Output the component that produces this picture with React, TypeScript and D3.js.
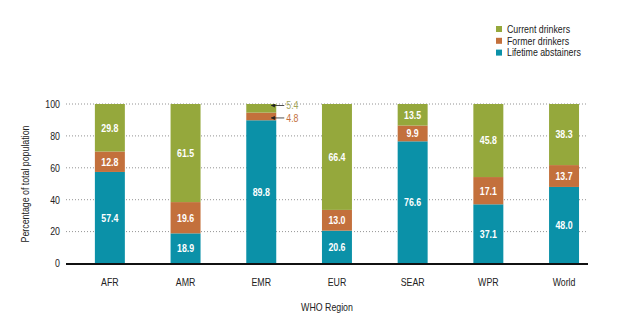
import React from "react";
import * as d3 from "d3";

const categories = ["AFR", "AMR", "EMR", "EUR", "SEAR", "WPR", "World"];
const lifetimeAbstainers = [57.4, 18.9, 89.8, 20.6, 76.6, 37.1, 48.0];
const formerDrinkers = [12.8, 19.6, 4.8, 13.0, 9.9, 17.1, 13.7];
const currentDrinkers = [29.8, 61.5, 5.4, 66.4, 13.5, 45.8, 38.3];
const yTicks = [0, 20, 40, 60, 80, 100];
const seriesNames = ["Current drinkers", "Former drinkers", "Lifetime abstainers"];

const COLORS: Record<string, string> = {
  "Lifetime abstainers": "#0b91a8",
  "Former drinkers": "#c3703c",
  "Current drinkers": "#95a83c",
};
const FONT = "'Liberation Sans', Arial, sans-serif";
const SX = 0.8;

function T(props: { x: number; y: number; anchor?: string; rotate?: number; size?: number; weight?: string; fill?: string; children: any }) {
  const { x, y, anchor = "start", rotate = 0, size = 11, weight = "normal", fill = "#222", children } = props;
  return (
    <text transform={`translate(${x},${y}) rotate(${rotate}) scale(${SX},1)`} textAnchor={anchor}
      dy="0.35em" fontSize={size} fontWeight={weight} fill={fill}>{children}</text>
  );
}

export default function App() {
  const W = 625, H = 328;
  const x0 = 66, x1 = 588;
  const x = d3.scaleBand<string>().domain(categories).range([x0, x1])
    .paddingInner(0.604).paddingOuter(0.25).align(0.763);
  const y = d3.scaleLinear().domain([0, 100]).range([263.5, 104]);

  const rows = categories.map((c, i) => ({
    cat: c,
    "Lifetime abstainers": lifetimeAbstainers[i],
    "Former drinkers": formerDrinkers[i],
    "Current drinkers": currentDrinkers[i],
  }));
  const keys = ["Lifetime abstainers", "Former drinkers", "Current drinkers"];
  const stacked = d3.stack<any>().keys(keys)(rows);

  const bw = x.bandwidth();
  const emrIdx = categories.indexOf("EMR");

  return (
    <svg width={W} height={H} style={{ position: "absolute", left: 0, top: 0, background: "#fff" }}
      fontFamily={FONT}>
      <defs>
        <marker id="arr" viewBox="0 0 10 10" refX="9" refY="5" markerWidth="5" markerHeight="5" orient="auto-start-reverse">
          <path d="M0,0 L10,5 L0,10 z" fill="#222" />
        </marker>
      </defs>
      {yTicks.filter(t => t > 0).map(t => (
        <line key={t} x1={x0} x2={x1} y1={y(t)} y2={y(t)} stroke="#777" strokeWidth={0.8} strokeDasharray="1,2" />
      ))}
      {yTicks.map(t => (
        <T key={t} x={60} y={y(t)} anchor="end">{t}</T>
      ))}
      {stacked.map(s => (
        <g key={s.key} fill={COLORS[s.key]}>
          {s.map((d, i) => (
            <rect key={i} x={x(categories[i])} width={bw} y={y(d[1])} height={y(d[0]) - y(d[1])} />
          ))}
        </g>
      ))}
      {stacked.map(s => (
        <g key={s.key + "l"}>
          {s.map((d, i) => {
            const v = d[1] - d[0];
            if (v < 7) return null;
            return (
              <T key={i} x={(x(categories[i]) as number) + bw / 2} y={(y(d[0]) + y(d[1])) / 2}
                anchor="middle" weight="bold" fill="#fff">{v.toFixed(1)}</T>
            );
          })}
        </g>
      ))}
      {stacked.map(s => {
        const d = s[emrIdx];
        const v = d[1] - d[0];
        if (v >= 7) return null;
        const isCur = s.key === "Current drinkers";
        const cy = isCur ? y(d[1]) + 1.5 : (y(d[0]) + y(d[1])) / 2 + 1.5;
        const bx = (x("EMR") as number) + bw / 2 + 10;
        return (
          <g key={s.key + "c"}>
            <line x1={bx + 13} x2={bx} y1={cy} y2={cy} stroke="#222" strokeWidth={0.8} markerEnd="url(#arr)" />
            <T x={bx + 15} y={cy} fill={isCur ? "#a3a55a" : "#c3703c"}>{v.toFixed(1)}</T>
          </g>
        );
      })}
      <line x1={x0} x2={x1} y1={264} y2={264} stroke="#111" strokeWidth={2} />
      {categories.map(c => (
        <T key={c} x={(x(c) as number) + bw / 2} y={282} anchor="middle">{c}</T>
      ))}
      <T x={(x0 + x1) / 2} y={307} anchor="middle">WHO Region</T>
      <T x={25} y={184} anchor="middle" rotate={-90}>Percentage of total population</T>
      {seriesNames.map((n, i) => (
        <g key={n} transform={`translate(496,${26 + i * 11.8})`}>
          <rect width={6} height={6} fill={COLORS[n]} />
          <T x={11} y={3}>{n}</T>
        </g>
      ))}
    </svg>
  );
}
